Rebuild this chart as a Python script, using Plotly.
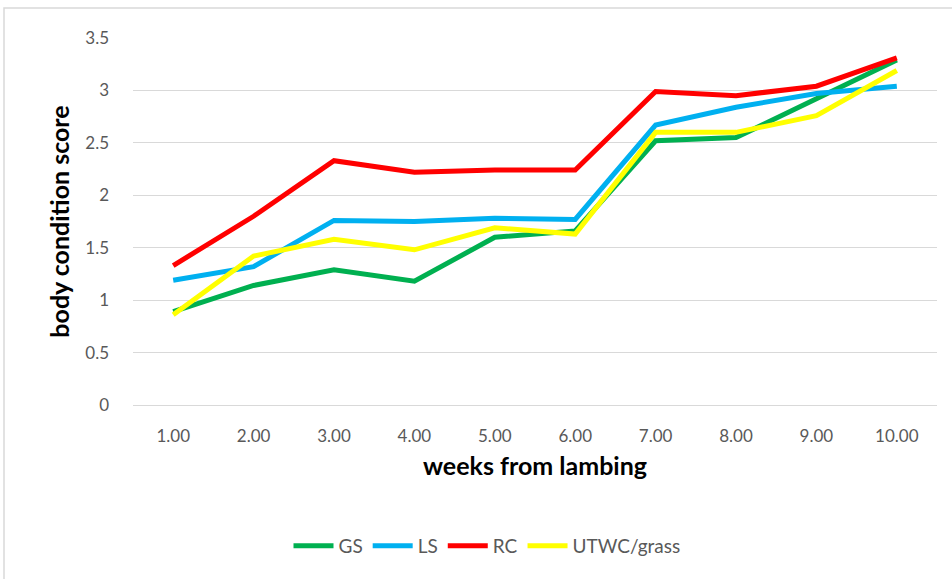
import plotly.graph_objects as go

# weeks from lambing (category labels) and body condition score per group
weeks = ["1.00", "2.00", "3.00", "4.00", "5.00", "6.00", "7.00", "8.00", "9.00", "10.00"]
gs = [0.89, 1.14, 1.29, 1.18, 1.60, 1.66, 2.52, 2.55, 2.92, 3.29]
ls = [1.19, 1.32, 1.76, 1.75, 1.78, 1.77, 2.67, 2.84, 2.97, 3.04]
rc = [1.33, 1.80, 2.33, 2.22, 2.24, 2.24, 2.99, 2.95, 3.04, 3.31]
utwc = [0.86, 1.42, 1.58, 1.48, 1.69, 1.63, 2.60, 2.60, 2.76, 3.19]

series = [
    ("GS", gs, "#00b050"),
    ("LS", ls, "#00b0f0"),
    ("RC", rc, "#ff0000"),
    ("UTWC/grass", utwc, "#ffff00"),
]

FONT = "Lato, 'Open Sans', sans-serif"
GREY = "#595959"

fig = go.Figure()
for name, vals, color in series:
    fig.add_trace(go.Scatter(
        x=weeks, y=vals, name=name, mode="lines",
        line=dict(color=color, width=5, shape="linear"),
    ))

W, H = 952, 579
L, R, T, B = 133, 15, 38, 174
pw, ph = W - L - R, H - T - B

def px_x(x):
    return (x - L) / pw

def px_y(y):
    return (H - B - y) / ph

fig.update_layout(
    width=W, height=H,
    margin=dict(l=L, r=R, t=T, b=B),
    paper_bgcolor="white", plot_bgcolor="white",
    font=dict(family=FONT, size=17, color=GREY),
    showlegend=True,
    legend=dict(
        orientation="h", x=px_x(487), xanchor="center",
        y=px_y(546), yanchor="middle",
        font=dict(family=FONT, size=19, color=GREY),
        itemwidth=40, tracegroupgap=0,
    ),
    xaxis=dict(
        type="category", range=[-0.5, 9.5], showgrid=False, zeroline=False,
        showline=True, linecolor="#d9d9d9", linewidth=1,
        ticks="", tickfont=dict(size=17, color=GREY), ticklabelstandoff=16,
        title=dict(text="<b>weeks from lambing</b>",
                   font=dict(family=FONT, size=25, color="black"), standoff=12),
    ),
    yaxis=dict(
        range=[0, 3.5], dtick=0.5,
        showgrid=True, gridcolor="#d9d9d9", gridwidth=1,
        zeroline=False, showline=False, ticks="",
        tickfont=dict(size=17, color=GREY), ticklabelstandoff=23,
        title=dict(text="<b>body condition score</b>",
                   font=dict(family=FONT, size=25, color="black"), standoff=8),
    ),
    shapes=[dict(
        type="rect", xref="paper", yref="paper", layer="below",
        x0=px_x(4), x1=px_x(990), y0=px_y(600), y1=px_y(8),
        line=dict(color="#d9d9d9", width=1.5), fillcolor="rgba(0,0,0,0)",
    )],
)

fig.write_html("out.html")
